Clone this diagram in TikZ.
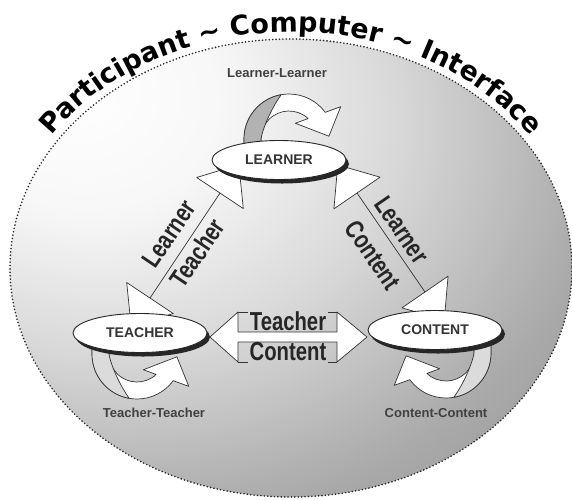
\documentclass[tikz,border=0pt]{standalone}
\usepackage{fontspec}
\setmainfont{Liberation Sans}
\newfontfamily\titlefont{DejaVu Sans}
\usetikzlibrary{shapes.geometric, shadows, calc, decorations.text}
\pgfdeclareradialshading{bowl}{\pgfpoint{-20bp}{20bp}}{color(0bp)=(white); color(12bp)=(black!3); color(25bp)=(black!15); color(40bp)=(black!33); color(55bp)=(black!45); color(120bp)=(black!52)}
\tikzstyle{hub}=[ellipse, draw=black!85, line width=0.9pt, fill=white, minimum width=134pt, minimum height=39pt, inner sep=0pt, font=\bfseries\fontsize{14}{14}\selectfont, text=black!80, drop shadow={shadow xshift=3pt, shadow yshift=-4pt, fill=black!85, opacity=1}]
\tikzstyle{wedge}=[fill=white, draw=black!80, line width=0.7pt, line join=round]
\tikzstyle{rim}=[draw=black!85, line width=1.8pt, dash pattern=on 0pt off 3.4pt, line cap=round]
\tikzstyle{pairlabel}=[font=\bfseries\fontsize{26}{26}\selectfont, text=black!85, inner sep=0pt]
\tikzstyle{looplabel}=[font=\bfseries\fontsize{13}{13}\selectfont, text=black!75]
\newcommand{\ribbonloop}[2]{%
  \begin{scope}[#1]
    \filldraw[wedge] (-45,-14) -- (180:45) arc[start angle=180, end angle=36.35, radius=45] -- (32:61) -- (4:40) -- (68:17) -- (46.85:28) arc[start angle=46.85, end angle=180, radius=28] -- (-28,-14) -- cycle;
    \filldraw[wedge, fill=#2] (-45,-14) -- (180:45) arc[start angle=180, end angle=100, radius=45] .. controls (130:33) and (170:28) .. (180:28) -- (-28,-14) -- cycle;
  \end{scope}}
\newcommand{\wedgehead}[2]{\filldraw[wedge] ($(#1)!28pt!90:(#2)$) -- ($(#1)!-34pt!(#2)$) -- ($(#1)!28pt!-90:(#2)$) -- cycle;}
\begin{document}
\begin{tikzpicture}[x=1pt, y=-1pt]
    \useasboundingbox (0,0) rectangle (572,499);
    \shade[shading=bowl] (291,268) ellipse [x radius=281, y radius=229];
    \path[rim] (291,268) ellipse [x radius=281, y radius=229];
    \path[decorate, decoration={text along path, text align=center, text={|\titlefont\bfseries\fontsize{27}{27}\selectfont|Participant {\textasciitilde} Computer {\textasciitilde} Interface}}] (291,268) ++(-160:289 and 236) arc[start angle=-160, end angle=-20, x radius=289, y radius=236];
    % self loops
    \ribbonloop{shift={(289,139)}, yscale=-1}{black!30}
    \ribbonloop{shift={(137,354)}}{black!14}
    \ribbonloop{shift={(446,353)}, xscale=-1}{black!14}
    % connectors
    \coordinate (lt0) at (150,298);
    \coordinate (lt1) at (220,193);
    \coordinate (lc1) at (357,193);
    \coordinate (lc0) at (425,292);
    \coordinate (tc0) at (210,337);
    \coordinate (tc1) at (367,337);
    \wedgehead{lt1}{lt0}
    \wedgehead{lt0}{lt1}
    \wedgehead{lc1}{lc0}
    \wedgehead{lc0}{lc1}
    \draw[black!80, line width=0.7pt] (lt0) -- (lt1);
    \draw[black!80, line width=0.7pt] (lc0) -- (lc1);
    \filldraw[wedge] (tc0) -- ++(28,-25) -- ++(0,20) -- ++(99,0) -- ++(0,-20) -- (tc1) -- ++(-30,25) -- ++(0,-20) -- ++(-99,0) -- ++(0,20) -- cycle;
    \draw[wedge] (238,312) -- (248,312) (328,312) -- (337,312);
    \draw[wedge] (238,362) -- (248,362) (328,362) -- (337,362);
    % nodes
    \node[hub] (learner) at (279,160) {LEARNER};
    \node[hub] (teacher) at (140,333) {TEACHER};
    \node[hub] (content) at (435,330) {CONTENT};
    % labels
    \node[pairlabel, xscale=.78] (tcA) at (288,321) {Teacher};
    \node[pairlabel, xscale=.78] (tcB) at (288,352) {Content};
    \node[pairlabel, rotate=56, xscale=.78] (ltA) at (169,234) {Learner};
    \node[pairlabel, rotate=56, xscale=.78] (ltB) at (197,253) {Teacher};
    \node[pairlabel, rotate=-55.5, xscale=.78] (lcA) at (402,230) {Learner};
    \node[pairlabel, rotate=-55.5, xscale=.78] (lcB) at (373,255) {Content};
    \node[looplabel] (ll) at (277,73) {Learner-Learner};
    \node[looplabel] (tt) at (154,413) {Teacher-Teacher};
    \node[looplabel] (cc) at (436,413) {Content-Content};
\end{tikzpicture}
\end{document}
